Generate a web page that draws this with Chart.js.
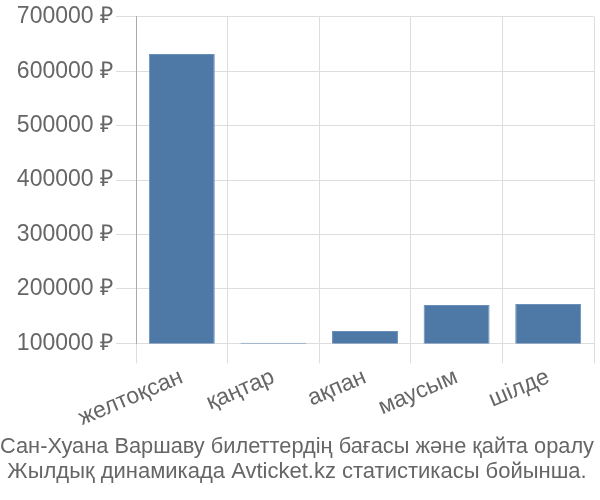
<!DOCTYPE html>
<html>
<head>
<meta charset="utf-8">
<script src="https://cdn.jsdelivr.net/npm/chart.js@4"></script>
<style>
html,body{margin:0;padding:0;background:#fff;}
#wrap{width:600px;height:500px;}
</style>
</head>
<body>
<div id="wrap"><canvas id="c" width="600" height="500"></canvas></div>
<script>
const categories = ["желтоқсан", "қаңтар", "ақпан", "маусым", "шілде"];
const prices = [631500, 101000, 123000, 170400, 172200];
const yTicks = [100000, 200000, 300000, 400000, 500000, 600000, 700000];
const titleLines = ["Сан-Хуана Варшаву билеттердің бағасы және қайта оралу", "Жылдық динамикада Avticket.kz статистикасы бойынша."];

Chart.defaults.font.family = "'Liberation Sans', Arial, sans-serif";
new Chart(document.getElementById('c'), {
  type: 'bar',
  data: {
    labels: categories,
    datasets: [{
      data: prices,
      backgroundColor: '#4e79a7',
      borderColor: '#6a8fb8',
      borderWidth: 1
    }]
  },
  options: {
    responsive: false,
    animation: false,
    layout: { padding: { left: 0, right: 6, top: 4, bottom: 0 } },
    plugins: {
      legend: { display: false },
      tooltip: { enabled: false },
      title: {
        display: true,
        position: 'bottom',
        text: titleLines,
        color: '#666',
        font: { size: 22, weight: 'normal', lineHeight: 1.15 },
        padding: { top: 0, bottom: 15 }
      }
    },
    scales: {
      x: {
        grid: { color: '#ddd', tickLength: 20, offset: true },
        border: { color: '#ddd' },
        ticks: { color: '#666', font: { size: 23 }, minRotation: 23, maxRotation: 23, padding: 0 },
        afterFit: (axis) => { axis.height = 91; }
      },
      y: {
        min: yTicks[0],
        max: yTicks[yTicks.length - 1],
        afterBuildTicks: (axis) => { axis.ticks = yTicks.map(v => ({ value: v })); },
        grid: { color: '#ddd', tickLength: 20 },
        border: { color: '#aaa' },
        ticks: { color: '#666', font: { size: 23 }, padding: 3, callback: v => v + ' ₽' },
        afterFit: (axis) => { axis.width = 136; }
      }
    }
  }
});
</script>
</body>
</html>
